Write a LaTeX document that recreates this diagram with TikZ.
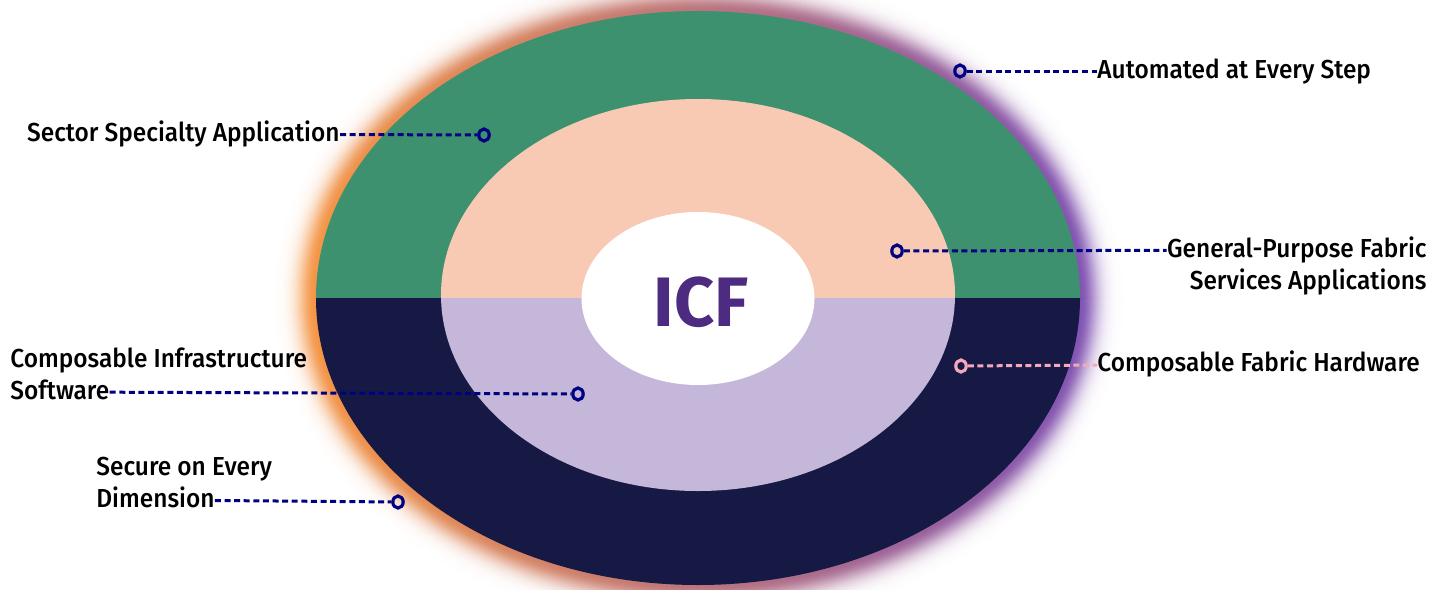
\documentclass[tikz,border=0pt]{standalone}
\usepackage{fontspec}
\setmainfont{Fira Sans}
\newfontfamily\labelfont{Fira Sans Medium}[FakeStretch=0.94]
\usetikzlibrary{shapes.geometric, positioning}

\definecolor{ringgreen}{RGB}{61,145,110}
\definecolor{ringnavy}{RGB}{22,25,68}
\definecolor{midpeach}{RGB}{248,202,180}
\definecolor{midlilac}{RGB}{197,183,217}
\definecolor{icfpurple}{RGB}{77,43,128}
\definecolor{linknavy}{RGB}{0,0,130}
\definecolor{linkpink}{RGB}{245,168,188}
\definecolor{haloleft}{RGB}{245,150,70}
\definecolor{halomid}{RGB}{240,95,165}
\definecolor{haloright}{RGB}{130,85,180}

\begin{document}
\begin{tikzpicture}[x=0.5pt,y=-0.5pt]
	\tikzset{lbl/.style = {inner sep=0pt, text height=9.5pt, text depth=2.5pt, font=\labelfont\fontsize{13}{15}\selectfont}}
	\tikzset{pin/.style = {ellipse, draw=linknavy, line width=1.6pt, minimum width=5.2pt, minimum height=6pt, inner sep=0pt}}
	\tikzset{link/.style = {linknavy, line width=1.5pt, dash pattern=on 3pt off 1.8pt}}
	
	\useasboundingbox (0,0) rectangle (1445,589);
	
	% soft halo round the outer ring, faded towards white
	\foreach \g in {44,43,...,1}{
		\pgfmathsetmacro{\k}{100*exp(-((\g-1)/18)^2)}
		\shade[left color=haloleft!\k!white, middle color=halomid!\k!white, right color=haloright!\k!white]
			(698,298) ellipse [x radius=382+\g, y radius=287+\g];
	}
	
	% outer ring: green top, navy bottom
	\begin{scope}
		\clip (0,0) rectangle (1445,298);
		\fill[ringgreen] (698,298) ellipse [x radius=382, y radius=287];
	\end{scope}
	\begin{scope}
		\clip (0,298) rectangle (1445,589);
		\fill[ringnavy] (698,298) ellipse [x radius=382, y radius=287];
	\end{scope}
	
	% middle ring
	\begin{scope}
		\clip (0,0) rectangle (1445,298);
		\fill[midpeach] (698,295) ellipse [x radius=257, y radius=196];
	\end{scope}
	\begin{scope}
		\clip (0,298) rectangle (1445,589);
		\fill[midlilac] (698,295) ellipse [x radius=257, y radius=196];
	\end{scope}
	
	% core
	\fill[white] (698,298.5) ellipse [x radius=116.5, y radius=86.5];
	\node[inner sep=0pt, text=icfpurple, font=\bfseries\fontsize{35}{40}\selectfont] (icf) at (701,302) {ICF};
	
	%%%%%%%%%%%%%%%%%%%%%%%%%%%%%%
	
	\node[pin] (p1) at (960,71) {};
	\node[pin] (p2) at (484,135) {};
	\node[pin] (p3) at (897,251) {};
	\node[pin, draw=linkpink] (p4) at (961,366) {};
	\node[pin] (p5) at (578,394) {};
	\node[pin] (p6) at (398,502) {};
	
	\node[lbl, anchor=west] (auto) at (1097,71) {Automated at Every Step};
	\node[lbl, anchor=east] (sector) at (340,134) {Sector Specialty Application};
	\node[lbl, anchor=east] (general) at (1427,250) {General-Purpose Fabric};
	\node[lbl, anchor=east] (services) at (1427,282) {Services Applications};
	\node[lbl, anchor=west] (hardware) at (1097,364) {Composable Fabric Hardware};
	\node[lbl, anchor=west] (infra) at (10,360) {Composable Infrastructure};
	\node[lbl, anchor=west] (software) at (10,392) {Software};
	\node[lbl, anchor=west] (secure) at (96,468) {Secure on Every};
	\node[lbl, anchor=west] (dimension) at (96,500) {Dimension};
	
	%%%%%%%%%%%%%%%%%%%%%%%%%%%%%%
	
	\draw[link] (p1) -- (auto);
	\draw[link] (sector) -- (p2);
	\draw[link] (p3) -- (general);
	\draw[link, linkpink] (p4) -- (hardware);
	\draw[link] (software) -- (p5);
	\draw[link] (dimension) -- (p6);
	
\end{tikzpicture}
\end{document}
